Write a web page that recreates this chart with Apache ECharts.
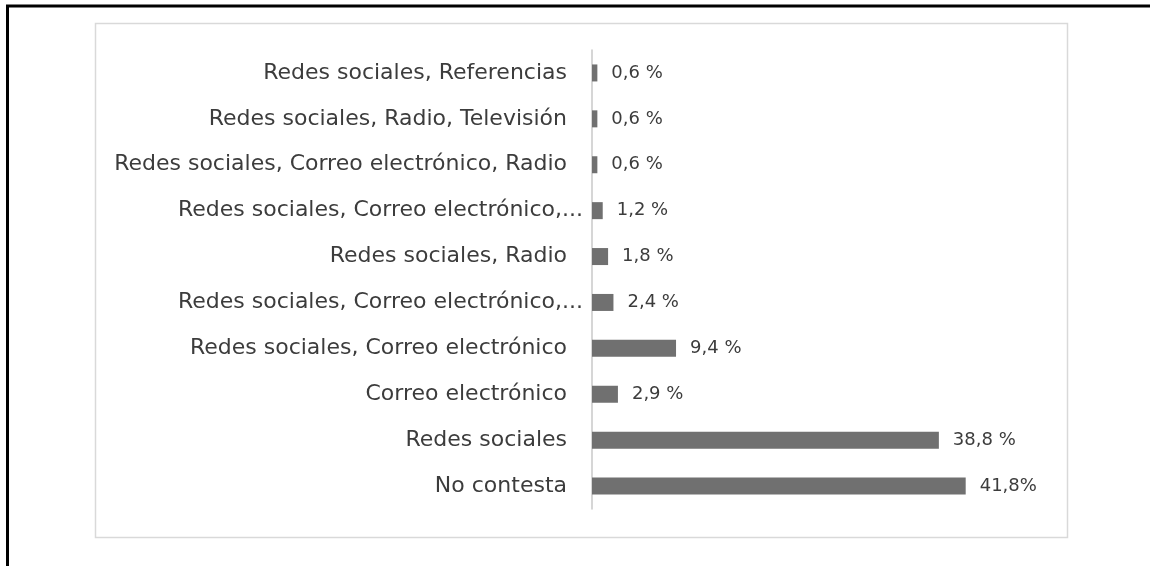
<!DOCTYPE html>
<html>
<head>
<meta charset="utf-8">
<script src="https://cdn.jsdelivr.net/npm/echarts@6/dist/echarts.min.js"></script>
<style>
html,body{margin:0;padding:0;background:#fff;}
#c{width:1150px;height:566px;}
</style>
</head>
<body>
<div id="c"></div>
<script>
// Data (top to bottom as shown)
const categories = [
  "Redes sociales, Referencias",
  "Redes sociales, Radio, Televisión",
  "Redes sociales, Correo electrónico, Radio",
  "Redes sociales, Correo electrónico,...",
  "Redes sociales, Radio",
  "Redes sociales, Correo electrónico,...",
  "Redes sociales, Correo electrónico",
  "Correo electrónico",
  "Redes sociales",
  "No contesta"
];
const values = [0.6, 0.6, 0.6, 1.2, 1.8, 2.4, 9.4, 2.9, 38.8, 41.8];
const valueLabels = ["0,6 %", "0,6 %", "0,6 %", "1,2 %", "1,8 %", "2,4 %", "9,4 %", "2,9 %", "38,8 %", "41,8%"];

const chart = echarts.init(document.getElementById('c'), null, {renderer: 'canvas'});
chart.setOption({
  animation: false,
  backgroundColor: '#ffffff',
  graphic: [
    {type: 'line', shape: {x1: 6, y1: 6, x2: 1150, y2: 6}, style: {stroke: '#000', lineWidth: 3}},
    {type: 'line', shape: {x1: 7.5, y1: 5, x2: 7.5, y2: 566}, style: {stroke: '#000', lineWidth: 3}},
    {type: 'rect', shape: {x: 95.5, y: 23.5, width: 972, height: 514}, style: {fill: 'none', stroke: '#d9d9d9', lineWidth: 1.5}}
  ],
  grid: {left: 592, right: 111, top: 50, bottom: 57, containLabel: false},
  xAxis: {
    type: 'value', min: 0, max: 50, show: false
  },
  yAxis: {
    type: 'category',
    inverse: true,
    data: categories.map((c, i) => i),
    axisLine: {show: true, lineStyle: {color: '#c8c8c8', width: 1.5}},
    axisTick: {show: false},
    axisLabel: {
      margin: 25,
      fontFamily: 'DejaVu Sans',
      fontSize: 22,
      color: '#3c3c3c',
      formatter: (v, idx) => {
        const t = categories[idx];
        return t.endsWith('...') ? '{e|' + t + '}' : t;
      },
      rich: {
        e: {fontFamily: 'DejaVu Sans', fontSize: 22, color: '#3c3c3c', padding: [0, -16, 0, 0]}
      }
    }
  },
  series: [{
    type: 'bar',
    data: values,
    barWidth: 17,
    itemStyle: {color: '#707070'},
    label: {
      show: true,
      position: 'right',
      distance: 14,
      fontFamily: 'DejaVu Sans',
      fontSize: 18,
      color: '#3c3c3c',
      formatter: p => valueLabels[p.dataIndex]
    }
  }]
});
</script>
</body>
</html>
